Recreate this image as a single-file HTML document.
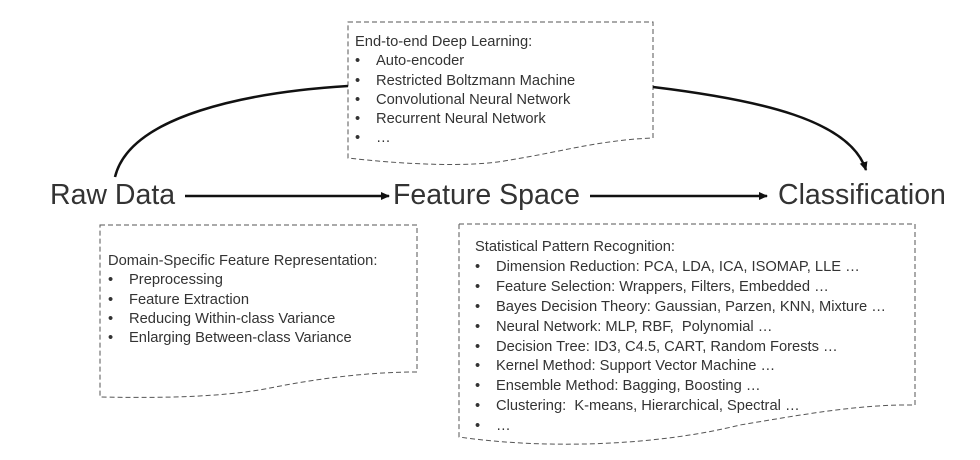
<!DOCTYPE html>
<html><head><meta charset="utf-8"><style>
body{margin:0;background:#fff;width:980px;height:460px;overflow:hidden;position:relative;font-family:"Liberation Sans",sans-serif;color:#222}
.big{position:absolute;font-size:28.5px;line-height:1;top:181px;color:#333;white-space:nowrap}
.t{position:absolute;font-size:14.7px;color:#333;white-space:nowrap}
.t div{position:relative;padding-left:21px}
.t div:before{content:"•";position:absolute;left:0px}
.t div.h{padding-left:0}.t div.h:before{content:""}
</style></head><body>
<svg width="980" height="460" style="position:absolute;left:0;top:0">
<defs><marker id="a" markerWidth="10" markerHeight="10" refX="8" refY="5" orient="auto" markerUnits="userSpaceOnUse"><path d="M0,1 L9,5 L0,9 Z" fill="#111"/></marker></defs>
<g fill="none" stroke="#555" stroke-width="1" stroke-dasharray="5,3">
<path d="M348,22 H653 V138 C600,140 560,152 510,160 C470,168 400,164 348,158 Z"/>
<path d="M100,225 H417 V372 C370,372 320,378 270,388 C220,398 150,398 100,397 Z"/>
<path d="M459,224 H915 V405 C860,404 800,415 740,425 C660,445 550,450 459,437 Z"/>
</g>
<g stroke="#111" stroke-width="2.5" fill="none">
<line x1="185" y1="196" x2="389" y2="196" marker-end="url(#a)"/>
<line x1="590" y1="196" x2="767" y2="196" marker-end="url(#a)"/>
<path d="M115,177 C130,115 250,92 348,86"/>
<path d="M653,87 C760,100 850,120 866,170" marker-end="url(#a)"/>
</g>
</svg>
<div class="big" style="left:50px">Raw Data</div>
<div class="big" style="left:393px">Feature Space</div>
<div class="big" style="left:778px">Classification</div>
<div class="t" style="left:355px;top:33px;line-height:19.3px">
<div class="h">End-to-end Deep Learning:</div>
<div>Auto-encoder</div><div>Restricted Boltzmann Machine</div><div>Convolutional Neural Network</div><div>Recurrent Neural Network</div><div>…</div></div>
<div class="t" style="left:108px;top:252px;line-height:19.3px">
<div class="h">Domain-Specific Feature Representation:</div>
<div>Preprocessing</div><div>Feature Extraction</div><div>Reducing Within-class Variance</div><div>Enlarging Between-class Variance</div></div>
<div class="t" style="left:475px;top:238px;line-height:19.9px">
<div class="h">Statistical Pattern Recognition:</div>
<div>Dimension Reduction: PCA, LDA, ICA, ISOMAP, LLE …</div>
<div>Feature Selection: Wrappers, Filters, Embedded …</div>
<div>Bayes Decision Theory: Gaussian, Parzen, KNN, Mixture …</div>
<div>Neural Network: MLP, RBF,&nbsp; Polynomial …</div>
<div>Decision Tree: ID3, C4.5, CART, Random Forests …</div>
<div>Kernel Method: Support Vector Machine …</div>
<div>Ensemble Method: Bagging, Boosting …</div>
<div>Clustering:&nbsp; K-means, Hierarchical, Spectral …</div>
<div>…</div></div>
</body></html>
